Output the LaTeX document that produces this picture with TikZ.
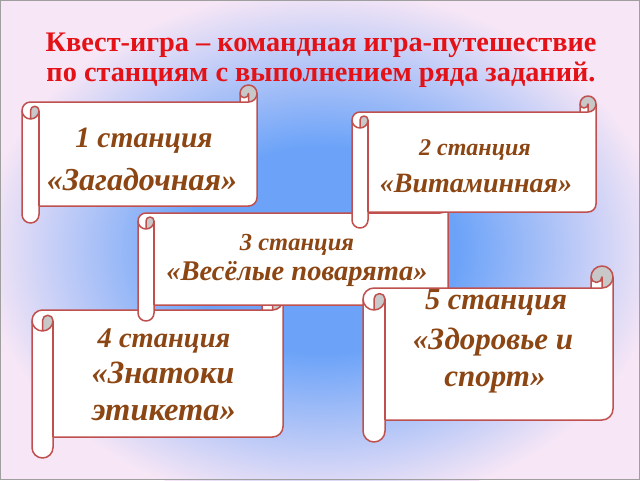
\documentclass[tikz,border=0pt]{standalone}
\usepackage{fontspec}
\setmainfont{Liberation Serif}
\definecolor{bgblue}{RGB}{108,163,248}
\definecolor{bglav}{RGB}{246,230,246}
\definecolor{scrollline}{RGB}{192,80,77}
\definecolor{curlgray}{RGB}{200,200,200}
\definecolor{stationbrown}{RGB}{140,70,20}
\definecolor{titlered}{RGB}{228,18,22}
\pgfdeclareradialshading{bgshade}{\pgfpoint{0bp}{0bp}}{color(0bp)=(bgblue); color(10bp)=(bgblue); color(25bp)=(bglav); color(50bp)=(bglav)}
\tikzset{
  scrollfill/.style={fill=white},
  scrolledge/.style={draw=scrollline, line width=1.5pt, line join=round},
  stationtext/.style={text=stationbrown, inner sep=0pt, anchor=base},
  titletext/.style={text=titlered, align=center, inner sep=0pt, font=\bfseries\fontsize{28.3}{30}\selectfont},
}
\newcommand\stfont[1]{\bfseries\itshape\fontsize{#1}{#1}\selectfont}
\newcommand\drawscroll[5]{%
\begin{scope}[shift={(#1,#2)}]
\pgfmathsetmacro\sW{#3-#1}%
\pgfmathsetmacro\sH{#4-#2}%
\pgfmathsetmacro\sC{#5}%
\pgfmathsetmacro\sCh{#5/2}%
\pgfmathsetmacro\sCq{#5/4}%
\pgfmathsetmacro\sXa{\sW-\sC}%
\pgfmathsetmacro\sXb{\sW-\sCh}%
\pgfmathsetmacro\sYa{1.5*\sC}%
\pgfmathsetmacro\sYb{2*\sC}%
\pgfmathsetmacro\sYc{\sH-1.5*\sC}%
\pgfmathsetmacro\sYd{\sH-\sC}%
\pgfmathsetmacro\sYe{\sH-\sCh}%
\path[scrollfill] (0,\sYa) arc[start angle=180,delta angle=90,radius=\sCh] -- (\sXa,\sC) -- (\sXa,\sCh) arc[start angle=180,delta angle=180,radius=\sCh] -- (\sW,\sYc) arc[start angle=0,delta angle=90,radius=\sCh] -- (\sC,\sYd) -- (\sC,\sYe) arc[start angle=0,delta angle=180,radius=\sCh] -- cycle;
\fill[curlgray] (\sXb,\sC) arc[start angle=90,delta angle=-270,radius=\sCh] arc[start angle=180,delta angle=-180,radius=\sCq] -- cycle;
\fill[curlgray] (\sCh,\sYb) arc[start angle=90,delta angle=-90,radius=\sCh] arc[start angle=0,delta angle=-180,radius=\sCq] -- cycle;
\path[scrolledge] (0,\sYa) arc[start angle=180,delta angle=90,radius=\sCh] -- (\sXa,\sC) -- (\sXa,\sCh) arc[start angle=180,delta angle=180,radius=\sCh] -- (\sW,\sYc) arc[start angle=0,delta angle=90,radius=\sCh] -- (\sC,\sYd) -- (\sC,\sYe) arc[start angle=0,delta angle=180,radius=\sCh] -- cycle;
\path[scrolledge] (\sXa,\sC) -- (\sXb,\sC) arc[start angle=90,delta angle=-90,radius=\sCh];
\path[scrolledge] (\sXb,\sC) -- (\sXb,\sCh) arc[start angle=0,delta angle=180,radius=\sCq];
\path[scrolledge] (\sCh,\sYb) -- (\sCh,\sYa) arc[start angle=180,delta angle=180,radius=\sCq] arc[start angle=0,delta angle=180,radius=\sCh];
\path[scrolledge] (\sC,\sYa) -- (\sC,\sYd);
\end{scope}}
\begin{document}
\begin{tikzpicture}[x=1pt,y=-1pt]
\useasboundingbox (0,0) rectangle (640,480);
\fill[bglav] (0,0) rectangle (640,480);
\shade[shading=bgshade] (322,250) ellipse (340 and 260);
\draw[gray!75, line width=1pt] (0.5,0.5) rectangle (639.5,479.5);
\node[titletext] (title) at (321,60) {Квест-игра – командная игра-путешествие\\по станциям с выполнением ряда заданий.};
% scroll 1
\drawscroll{22}{85}{257}{223}{17}
\node[stationtext, font=\stfont{29.5}] (s1a) at (144,147) {1 станция};
\node[stationtext, font=\stfont{32}] (s1b) at (142,190) {«Загадочная»};
% scroll 4
\drawscroll{32}{289}{283}{458}{21}
\node[stationtext, font=\stfont{28.5}] (s4a) at (164,347) {4 станция};
\node[stationtext, font=\stfont{32.5}] (s4b) at (163,383) {«Знатоки};
\node[stationtext, font=\stfont{32.5}] (s4c) at (164,420) {этикета»};
% scroll 3
\drawscroll{138}{197}{448}{321}{16}
\node[stationtext, font=\stfont{24.5}] (s3a) at (297,250) {3 станция};
\node[stationtext, font=\stfont{28.5}] (s3b) at (297,280) {«Весёлые поварята»};
% scroll 2
\drawscroll{352}{96}{596}{228}{16}
\node[stationtext, font=\stfont{24}] (s2a) at (475,155) {2 станция};
\node[stationtext, font=\stfont{28}] (s2b) at (476,192) {«Витаминная»};
% scroll 5
\drawscroll{363}{266}{613}{442}{22}
\node[stationtext, font=\stfont{30.5}] (s5a) at (496,309) {5 станция};
\node[stationtext, font=\stfont{31}] (s5b) at (493,349) {«Здоровье и};
\node[stationtext, font=\stfont{31}] (s5c) at (495,386) {спорт»};
\end{tikzpicture}
\end{document}
